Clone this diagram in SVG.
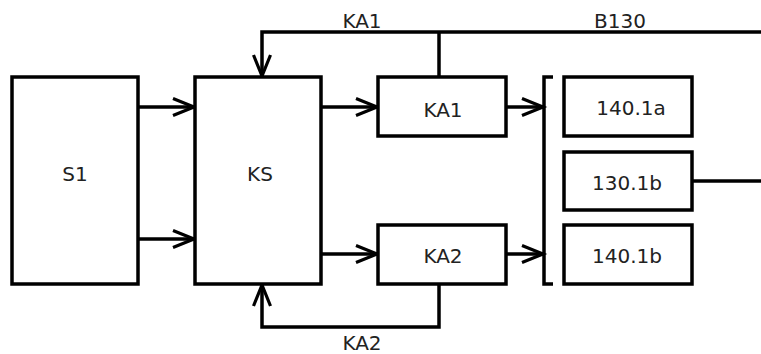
<svg xmlns="http://www.w3.org/2000/svg" width="761" height="354" viewBox="0 0 761 354">
<defs>
<style>
.box{fill:#fff;stroke:#000;stroke-width:3.5}
.ln{fill:none;stroke:#000;stroke-width:3.5}
.t{font-family:"DejaVu Sans",Verdana,sans-serif;font-size:20px;fill:#222;text-anchor:middle}
</style>
<marker id="ah" markerUnits="userSpaceOnUse" markerWidth="30" markerHeight="24" viewBox="-24 -12 30 24" refX="0" refY="0" orient="auto">
<path d="M-21,-8.5 L0,0 L-21,8.5" fill="none" stroke="#000" stroke-width="3.2" stroke-linejoin="miter"/>
</marker>
</defs>
<rect width="761" height="354" fill="#fff"/>
<g id="connectors">
<path class="ln" d="M138,107 H194" marker-end="url(#ah)"/>
<path class="ln" d="M138,239 H194" marker-end="url(#ah)"/>
<path class="ln" d="M321,107 H377" marker-end="url(#ah)"/>
<path class="ln" d="M321,254 H377" marker-end="url(#ah)"/>
<path class="ln" d="M506,107 H543" marker-end="url(#ah)"/>
<path class="ln" d="M506,254 H543" marker-end="url(#ah)"/>
<path class="ln" d="M761,32 H262 V76" marker-end="url(#ah)"/>
<path class="ln" d="M439,32 V77"/>
<path class="ln" d="M439,284 V327 H262 V285" marker-end="url(#ah)"/>
<path class="ln" d="M553,77 H544 V284 H553"/>
<path class="ln" d="M692,181 H761"/>
<text class="t" x="362" y="28">KA1</text>
<text class="t" x="620" y="28">B130</text>
<text class="t" x="362" y="350">KA2</text>
</g>
<g id="S1"><rect class="box" x="12" y="77" width="126" height="207"/><text class="t" x="75" y="181">S1</text></g>
<g id="KS"><rect class="box" x="195" y="77" width="126" height="207"/><text class="t" x="260" y="181">KS</text></g>
<g id="KA1"><rect class="box" x="378" y="77" width="128" height="59"/><text class="t" x="443" y="117">KA1</text></g>
<g id="KA2"><rect class="box" x="378" y="225" width="128" height="59"/><text class="t" x="443" y="263">KA2</text></g>
<g id="n140_1a"><rect class="box" x="564" y="77" width="128" height="59"/><text class="t" x="631" y="115">140.1a</text></g>
<g id="n130_1b"><rect class="box" x="564" y="152" width="128" height="58"/><text class="t" x="627" y="190">130.1b</text></g>
<g id="n140_1b"><rect class="box" x="564" y="225" width="128" height="59"/><text class="t" x="627" y="263">140.1b</text></g>
</svg>
